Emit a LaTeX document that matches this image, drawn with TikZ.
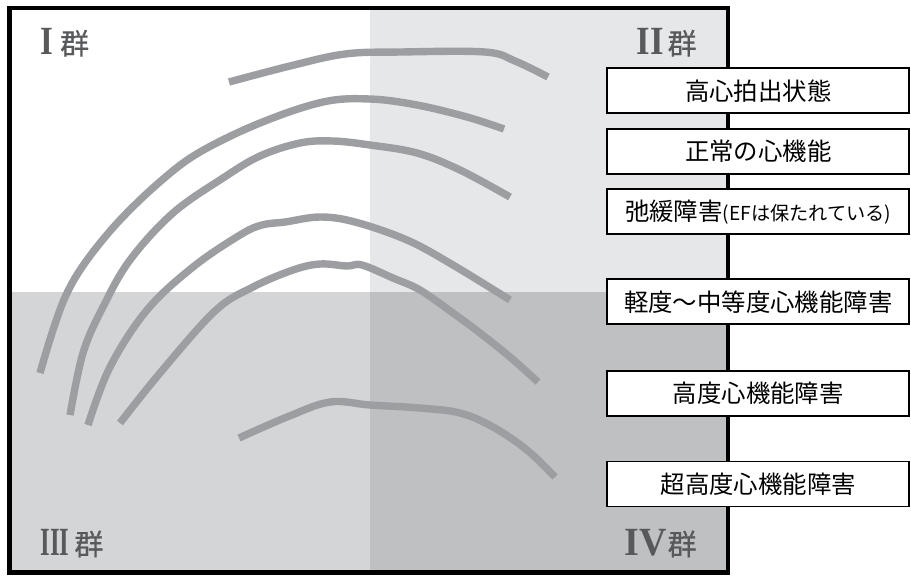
\documentclass[tikz,border=0pt]{standalone}
\usepackage{fontspec}
\usepackage{graphicx}
\setmainfont{Noto Sans CJK JP}
\newfontfamily\romanfont{Liberation Serif Bold}
\newfontfamily\groupfont[FakeBold=0.6]{Noto Sans CJK JP}
\definecolor{quadTR}{HTML}{E6E7E8}
\definecolor{quadBL}{HTML}{D4D5D7}
\definecolor{quadBR}{HTML}{BFC0C2}
\definecolor{curvegray}{HTML}{9D9EA1}
\definecolor{textgray}{HTML}{58595B}
\newcommand{\grpnum}[2]{{\romanfont\fontsize{20}{20}\selectfont\scalebox{#1}[1]{#2}}}
\begin{document}
\begin{tikzpicture}[x=0.5pt,y=-0.5pt,
		curve/.style={line width=3.7pt,draw=curvegray},
		labelbox/.style={draw,fill=white,line width=0.9pt,minimum width=151pt,minimum height=22.5pt,inner sep=0pt,font=\fontsize{12.2}{14}\selectfont},
		grouplabel/.style={text=textgray,inner sep=0pt,font=\groupfont\fontsize{14.5}{16}\selectfont}]
		\useasboundingbox (0,0) rectangle (911,575);
		% quadrants
		\fill[white] (9.5,7.7) rectangle (370,292);
		\fill[quadTR] (370,7.7) rectangle (728,292);
		\fill[quadBL] (9.5,292) rectangle (370,572.5);
		\fill[quadBR] (370,292) rectangle (728,572.5);
		\draw[line width=2.2pt] (9.5,7.7) rectangle (728,572.5);
		% group labels
		\node[grouplabel,anchor=base west] (grpI) at (40,54.3) {\grpnum{0.82}{I}\hspace{3.5pt}群};
		\node[grouplabel,anchor=base east] (grpII) at (697,54.3) {\grpnum{0.87}{II}\hspace{2pt}群};
		\node[grouplabel,anchor=base west] (grpIII) at (40,555) {\grpnum{0.62}{III}\hspace{2.5pt}群};
		\node[grouplabel,anchor=base east] (grpIV) at (697,555) {\grpnum{0.95}{IV}\hspace{0.5pt}群};
		% curves
		\draw[curve] plot[smooth,tension=0.6] coordinates {(229,82) (290,66) (345,54) (400,52) (485,52) (515,61) (548,77)};
		\draw[curve] plot[smooth,tension=0.6] coordinates {(40,373) (53,330) (67,293) (87,260) (120,220) (162,180) (200,152) (260,123) (323,102) (370,99) (417,105) (467,117) (504,129)};
		\draw[curve] plot[smooth,tension=0.6] coordinates {(70,415) (83,353) (103,307) (130,260) (173,213) (223,178) (260,156) (300,143) (333,141) (370,145) (417,153) (460,170) (510,197)};
		\draw[curve] plot[smooth,tension=0.6] coordinates {(88,425) (110,367) (147,310) (193,267) (240,235) (262,225) (285,222) (320,217) (355,222) (407,240) (453,265) (510,300)};
		\draw[curve] plot[smooth,tension=0.6] coordinates {(120,423) (160,373) (215,311) (253,287) (293,270) (320,264) (347,266) (362,265) (393,278) (420,290) (453,313) (480,333) (510,357) (538,382)};
		\draw[curve] plot[smooth,tension=0.6] coordinates {(239,438) (287,417) (330,402) (370,405) (420,408) (460,413) (493,427) (527,450) (555,477)};
		% boxes
		\node[labelbox] (highout) at (758.3,90.8) {高心拍出状態};
		\node[labelbox] (normal) at (758.3,151.7) {正常の心機能};
		\node[labelbox] (relax) at (758.3,211.8) {弛緩障害{\fontsize{9.6}{11}\selectfont (EFは保たれている)}};
		\node[labelbox] (mild) at (758.3,301.7) {軽度～中等度心機能障害};
		\node[labelbox] (severe) at (758.3,393.2) {高度心機能障害};
		\node[labelbox] (extreme) at (758.3,483.9) {超高度心機能障害};
\end{tikzpicture}
\end{document}
